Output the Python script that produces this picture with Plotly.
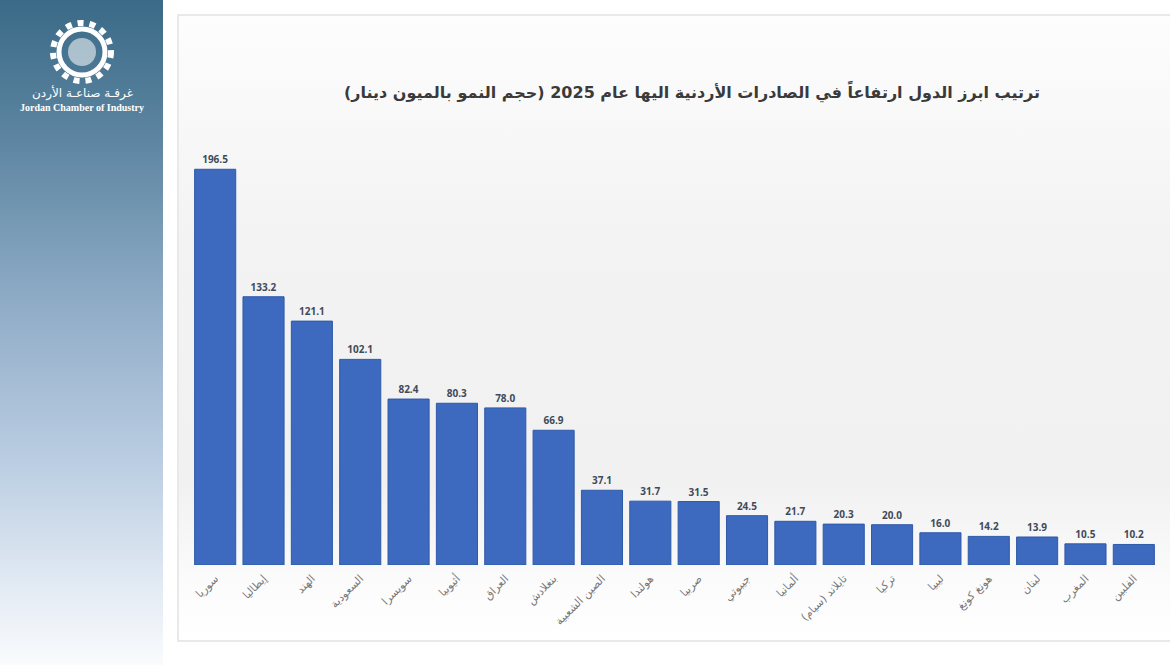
import base64
import plotly.graph_objects as go

# Top countries by growth of Jordanian exports in 2025 (growth, million JOD)
countries = ['سوريا', 'إيطاليا', 'الهند', 'السعودية', 'سويسرا', 'أثيوبيا', 'العراق',
             'بنغلادش', 'الصين الشعبية', 'هولندا', 'صربيا', 'جيبوتي', 'ألمانيا',
             'تايلاند (سيام)', 'تركيا', 'ليبيا', 'هونغ كونغ', 'لبنان', 'المغرب', 'الفلبين']
growth = [196.5, 133.2, 121.1, 102.1, 82.4, 80.3, 78.0, 66.9, 37.1, 31.7,
          31.5, 24.5, 21.7, 20.3, 20.0, 16.0, 14.2, 13.9, 10.5, 10.2]

title = 'ترتيب ابرز الدول ارتفاعاً في الصادرات الأردنية اليها عام 2025 (حجم النمو بالميون دينار)'

W, H = 1170, 665


def px_x(x):
    return x / W


def px_y(y):
    return 1 - y / H


def gradient_svg(stops, w=10, h=100):
    st = ''.join(f'<stop offset="{o}" stop-color="{c}"/>' for o, c in stops)
    svg = (f'<svg xmlns="http://www.w3.org/2000/svg" width="{w}" height="{h}" '
           f'preserveAspectRatio="none" viewBox="0 0 {w} {h}">'
           f'<defs><linearGradient id="g" x1="0" y1="0" x2="0" y2="1">{st}</linearGradient></defs>'
           f'<rect width="{w}" height="{h}" fill="url(#g)"/></svg>')
    return 'data:image/svg+xml;base64,' + base64.b64encode(svg.encode()).decode()


sidebar = gradient_svg([(0, '#3a6a87'), (0.2, '#5b84a0'), (0.45, '#8eabc6'),
                        (0.7, '#bccee3'), (0.9, '#e6edf5'), (1, '#fafbfd')])
card = gradient_svg([(0, '#fdfdfd'), (0.35, '#f3f3f3'), (0.75, '#f1f1f1'),
                     (0.9, '#fbfbfb'), (1, '#ffffff')])

fig = go.Figure()
fig.add_trace(go.Bar(
    x=countries, y=growth,
    marker=dict(color='#3d69bf', line=dict(color='#2f59a8', width=1)),
    texttemplate='%{y:.1f}', textposition='outside', cliponaxis=False,
    textfont=dict(family='Open Sans', size=10, color='#3f4a5a', weight='bold'),
    hoverinfo='skip',
))

fig.update_layout(
    width=W, height=H,
    margin=dict(l=0, r=0, t=0, b=0),
    paper_bgcolor='#ffffff', plot_bgcolor='rgba(0,0,0,0)',
    bargap=0.15, showlegend=False,
    xaxis=dict(domain=[px_x(191), px_x(1158)], showgrid=False, zeroline=False,
               showline=False, ticks='', tickangle=-45, ticklabelstandoff=4,
               tickfont=dict(family='DejaVu Sans', size=11, color='#777777')),
    yaxis=dict(domain=[px_y(565), px_y(130)], range=[0, 216], visible=False),
    images=[
        dict(source=sidebar, xref='paper', yref='paper', x=0, y=1,
             sizex=px_x(163), sizey=1, sizing='stretch', layer='below'),
        dict(source=card, xref='paper', yref='paper', x=px_x(179), y=px_y(16),
             sizex=px_x(1170 - 179), sizey=(640 - 16) / H, sizing='stretch', layer='below'),
    ],
    shapes=[
        dict(type='rect', xref='paper', yref='paper', x0=px_x(178), x1=px_x(1172),
             y0=px_y(641), y1=px_y(15), line=dict(color='#e2e2e2', width=1.5), layer='below'),
        # logo gear
        dict(type='circle', xref='paper', yref='paper', x0=px_x(53), x1=px_x(111),
             y0=px_y(81), y1=px_y(23), line=dict(color='#ffffff', width=6, dash='dot')),
        dict(type='circle', xref='paper', yref='paper', x0=px_x(59), x1=px_x(105),
             y0=px_y(75), y1=px_y(29), line=dict(color='#ffffff', width=5)),
        dict(type='circle', xref='paper', yref='paper', x0=px_x(68), x1=px_x(96),
             y0=px_y(66), y1=px_y(38), fillcolor='rgba(255,255,255,0.55)', line=dict(width=0)),
    ],
    annotations=[
        dict(text=title, xref='paper', yref='paper', x=px_x(692), y=px_y(92),
             showarrow=False, xanchor='center', yanchor='middle',
             font=dict(family='DejaVu Sans', size=16, color='#3a3a3a', weight='bold')),
        dict(text='غرفـة صناعـة الأردن', xref='paper', yref='paper', x=px_x(82), y=px_y(93),
             showarrow=False, xanchor='center', yanchor='middle',
             font=dict(family='DejaVu Sans', size=12, color='#ffffff')),
        dict(text='Jordan Chamber of Industry', xref='paper', yref='paper', x=px_x(82), y=px_y(107),
             showarrow=False, xanchor='center', yanchor='middle',
             font=dict(family='Liberation Serif', size=10, color='#ffffff', weight='bold')),
    ],
)

fig.write_html('out.html', config={'displayModeBar': False},
               post_script="document.body.style.margin='0';")
